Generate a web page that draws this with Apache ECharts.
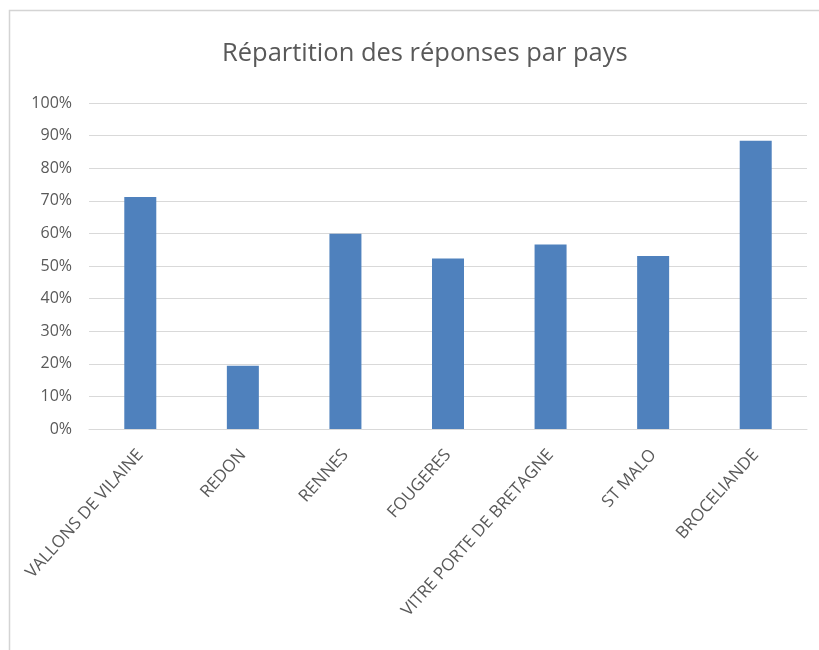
<!DOCTYPE html>
<html>
<head>
<meta charset="utf-8">
<style>
  html, body { margin: 0; padding: 0; background: #fff; }
  #main { width: 819px; height: 650px; }
</style>
<script src="https://cdn.jsdelivr.net/npm/echarts@6/dist/echarts.min.js"></script>
</head>
<body>
<div id="main"></div>
<script>
// catégories et valeurs (en %)
var categories = ['VALLONS DE VILAINE', 'REDON', 'RENNES', 'FOUGERES', 'VITRE PORTE DE BRETAGNE', 'ST MALO', 'BROCELIANDE'];
var values = [71.2, 19.4, 59.9, 52.3, 56.6, 53.1, 88.4];
var yTicks = [0, 10, 20, 30, 40, 50, 60, 70, 80, 90, 100];

var font = '"Open Sans", sans-serif';
var textColor = '#595959';

var myChart = echarts.init(document.getElementById('main'));
myChart.setOption({
  animation: false,
  title: {
    text: 'Répartition des réponses par pays',
    left: 217,
    top: 36,
    textStyle: { fontFamily: font, fontSize: 25.5, fontWeight: 'normal', color: textColor }
  },
  graphic: [{
    type: 'rect',
    shape: { x: 9.5, y: 10.5, width: 830, height: 660 },
    style: { fill: 'none', stroke: '#d4d4d4', lineWidth: 1.5 },
    silent: true
  }],
  grid: { left: 89, right: 12, top: 103, bottom: 221 },
  xAxis: {
    type: 'category',
    data: categories,
    axisLine: { lineStyle: { color: '#d9d9d9' } },
    axisTick: { show: false },
    axisLabel: {
      interval: 0,
      rotate: 48,
      margin: 23,
      fontFamily: font,
      fontSize: 17,
      color: textColor
    }
  },
  yAxis: {
    type: 'value',
    min: yTicks[0],
    max: yTicks[yTicks.length - 1],
    interval: 10,
    axisLine: { show: false },
    axisTick: { show: false },
    splitLine: { lineStyle: { color: '#d9d9d9', width: 1 } },
    axisLabel: {
      margin: 17,
      fontFamily: font,
      fontSize: 16,
      color: textColor,
      formatter: '{value}%'
    }
  },
  series: [{
    type: 'bar',
    data: values,
    barWidth: 32,
    itemStyle: { color: '#4f81bd' }
  }]
});
</script>
</body>
</html>
